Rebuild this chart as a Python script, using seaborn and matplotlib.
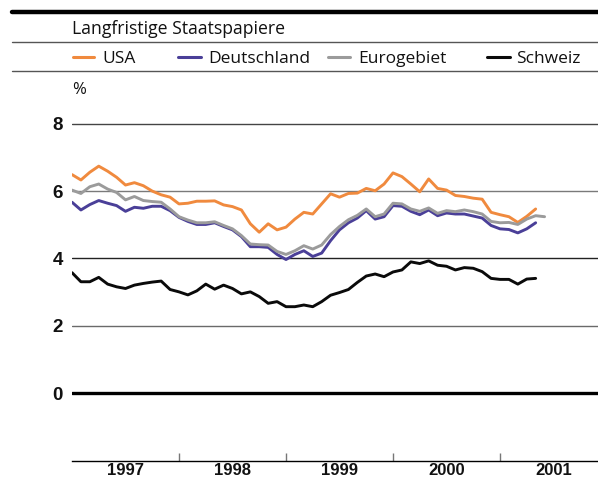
import numpy as np
import pandas as pd
import matplotlib
matplotlib.use("Agg")
import matplotlib.pyplot as plt
from matplotlib.lines import Line2D
import seaborn as sns

# ---------------- data (monthly, from Jan 1997) ----------------
usa = [6.49, 6.33, 6.56, 6.74, 6.59, 6.41, 6.18, 6.25, 6.16, 6.00, 5.89, 5.82,
       5.62, 5.64, 5.70, 5.70, 5.71, 5.59, 5.54, 5.44, 5.03, 4.78, 5.03, 4.85,
       4.93, 5.17, 5.37, 5.32, 5.62, 5.92, 5.82, 5.93, 5.94, 6.08, 6.01, 6.21,
       6.54, 6.43, 6.21, 5.98, 6.36, 6.08, 6.03, 5.87, 5.84, 5.79, 5.76, 5.37,
       5.30, 5.24, 5.07, 5.25, 5.47]
deutschland = [5.67, 5.44, 5.60, 5.72, 5.64, 5.57, 5.40, 5.52, 5.49, 5.55, 5.55, 5.42,
               5.22, 5.10, 5.01, 5.01, 5.06, 4.95, 4.85, 4.65, 4.35, 4.35, 4.33, 4.12,
               3.97, 4.12, 4.23, 4.06, 4.16, 4.53, 4.85, 5.06, 5.20, 5.42, 5.17, 5.24,
               5.57, 5.55, 5.40, 5.30, 5.44, 5.27, 5.35, 5.32, 5.32, 5.26, 5.20, 4.98,
               4.88, 4.86, 4.76, 4.88, 5.06]
eurogebiet = [6.03, 5.93, 6.13, 6.21, 6.06, 5.96, 5.74, 5.84, 5.72, 5.69, 5.67, 5.47,
              5.24, 5.14, 5.06, 5.06, 5.09, 4.98, 4.88, 4.68, 4.43, 4.41, 4.40, 4.21,
              4.12, 4.23, 4.38, 4.28, 4.40, 4.71, 4.95, 5.15, 5.28, 5.47, 5.24, 5.32,
              5.64, 5.62, 5.47, 5.40, 5.50, 5.34, 5.42, 5.39, 5.44, 5.39, 5.32, 5.10,
              5.06, 5.07, 5.01, 5.17, 5.27, 5.24]
schweiz = [3.58, 3.31, 3.31, 3.44, 3.24, 3.16, 3.11, 3.21, 3.26, 3.30, 3.33, 3.08,
           3.01, 2.92, 3.04, 3.24, 3.09, 3.21, 3.11, 2.95, 3.01, 2.87, 2.67, 2.72,
           2.57, 2.57, 2.62, 2.57, 2.72, 2.91, 2.99, 3.08, 3.29, 3.48, 3.54, 3.46,
           3.60, 3.66, 3.90, 3.85, 3.93, 3.80, 3.77, 3.66, 3.73, 3.71, 3.61, 3.41,
           3.38, 3.38, 3.24, 3.39, 3.41]

series_names = ["USA", "Deutschland", "Eurogebiet", "Schweiz"]
series_values = [usa, deutschland, eurogebiet, schweiz]
colors = ["#F08A3E", "#4A3F98", "#9B9B9B", "#0A0A0A"]
year_labels = ["1997", "1998", "1999", "2000", "2001"]
y_ticks = [0, 2, 4, 6, 8]
title = "Langfristige Staatspapiere"
unit = "%"
start_year = 1997

rows = []
for name, vals in zip(series_names, series_values):
    for i, v in enumerate(vals):
        rows.append({"t": start_year + i / 12.0, "value": v, "series": name})
df = pd.DataFrame(rows)

# ---------------- figure ----------------
sns.set_style("white")
plt.rcParams["font.family"] = ["Open Sans", "DejaVu Sans"]

W, H = 598, 483
fig = plt.figure(figsize=(W / 100, H / 100), dpi=100)

def fx(px):
    return px / W

def fy(py):
    return 1 - py / H

ax_left, ax_right = 72, 598
ax_bottom_px = 460.7
ymin, ymax = -2, 8.6
px_per_unit = 33.7
ax_top_px = ax_bottom_px - (ymax - ymin) * px_per_unit
ax = fig.add_axes([fx(ax_left), fy(ax_bottom_px), fx(ax_right - ax_left),
                   (ax_bottom_px - ax_top_px) / H])
ax.set_facecolor("none")

# gridlines first
grid_colors = {8: "#444444", 6: "#7a7a7a", 4: "#222222", 2: "#6a6a6a"}
for yv in y_ticks:
    if yv == 0:
        ax.axhline(yv, color="#000000", lw=2.4, zorder=1)
    else:
        ax.axhline(yv, color=grid_colors[yv], lw=1.0, zorder=1)

palette = dict(zip(series_names, colors))
sns.lineplot(data=df, x="t", y="value", hue="series", hue_order=series_names,
             palette=palette, lw=2.1, ax=ax, legend=False, zorder=3)

ax.set_xlim(start_year, start_year + (ax_right - ax_left) / 107.0)
ax.set_ylim(ymin, ymax)
ax.set_xlabel("")
ax.set_ylabel("")

for s in ["top", "right", "left"]:
    ax.spines[s].set_visible(False)
ax.spines["bottom"].set_color("#000000")
ax.spines["bottom"].set_linewidth(1.0)

# x ticks: boundaries as major ticks, labels at mid-year as minor
ax.set_xticks([start_year + k for k in range(1, len(year_labels))])
ax.set_xticklabels([])
ax.set_xticks([start_year + k + 0.5 for k in range(len(year_labels))], minor=True)
ax.set_xticklabels(year_labels, minor=True)
ax.tick_params(axis="x", which="major", direction="in", length=6, width=1,
               color="#777777", bottom=True)
ax.tick_params(axis="x", which="minor", length=0, pad=2, labelsize=12)
for lab in ax.get_xticklabels(minor=True):
    lab.set_fontweight("bold")
    lab.set_color("#111111")
    lab.set_family(["Liberation Sans", "DejaVu Sans"])

ax.set_yticks(y_ticks)
ax.set_yticklabels([str(v) for v in y_ticks])
ax.tick_params(axis="y", length=0, pad=6.5, labelsize=13.5)
for lab in ax.get_yticklabels():
    lab.set_fontweight("bold")
    lab.set_color("#111111")
    lab.set_family(["Liberation Sans", "DejaVu Sans"])

# ---------------- header ----------------
fig.add_artist(Line2D([fx(12), 1], [fy(11.7), fy(11.7)], color="#000000", lw=3.2))
fig.add_artist(Line2D([fx(12), 1], [fy(41.7), fy(41.7)], color="#555555", lw=1.0))
fig.add_artist(Line2D([fx(12), 1], [fy(70.7), fy(70.7)], color="#555555", lw=1.0))

fig.text(fx(72.5), fy(34.5), title, fontsize=12.7, color="#111111", va="baseline")

leg_line_x = [(72.5, 93.5), (177.5, 200.5), (328, 350), (487, 510)]
leg_text_x = [102, 208, 358, 516]
for name, c, (x0, x1), tx in zip(series_names, colors, leg_line_x, leg_text_x):
    fig.add_artist(Line2D([fx(x0), fx(x1)], [fy(57), fy(57)], color=c, lw=2.2))
    fig.text(fx(tx), fy(63), name, fontsize=12.5, color="#111111", va="baseline")

fig.text(fx(72.5), fy(94), unit, fontsize=12, color="#111111", va="baseline")

fig.savefig("out.png", dpi=100)
